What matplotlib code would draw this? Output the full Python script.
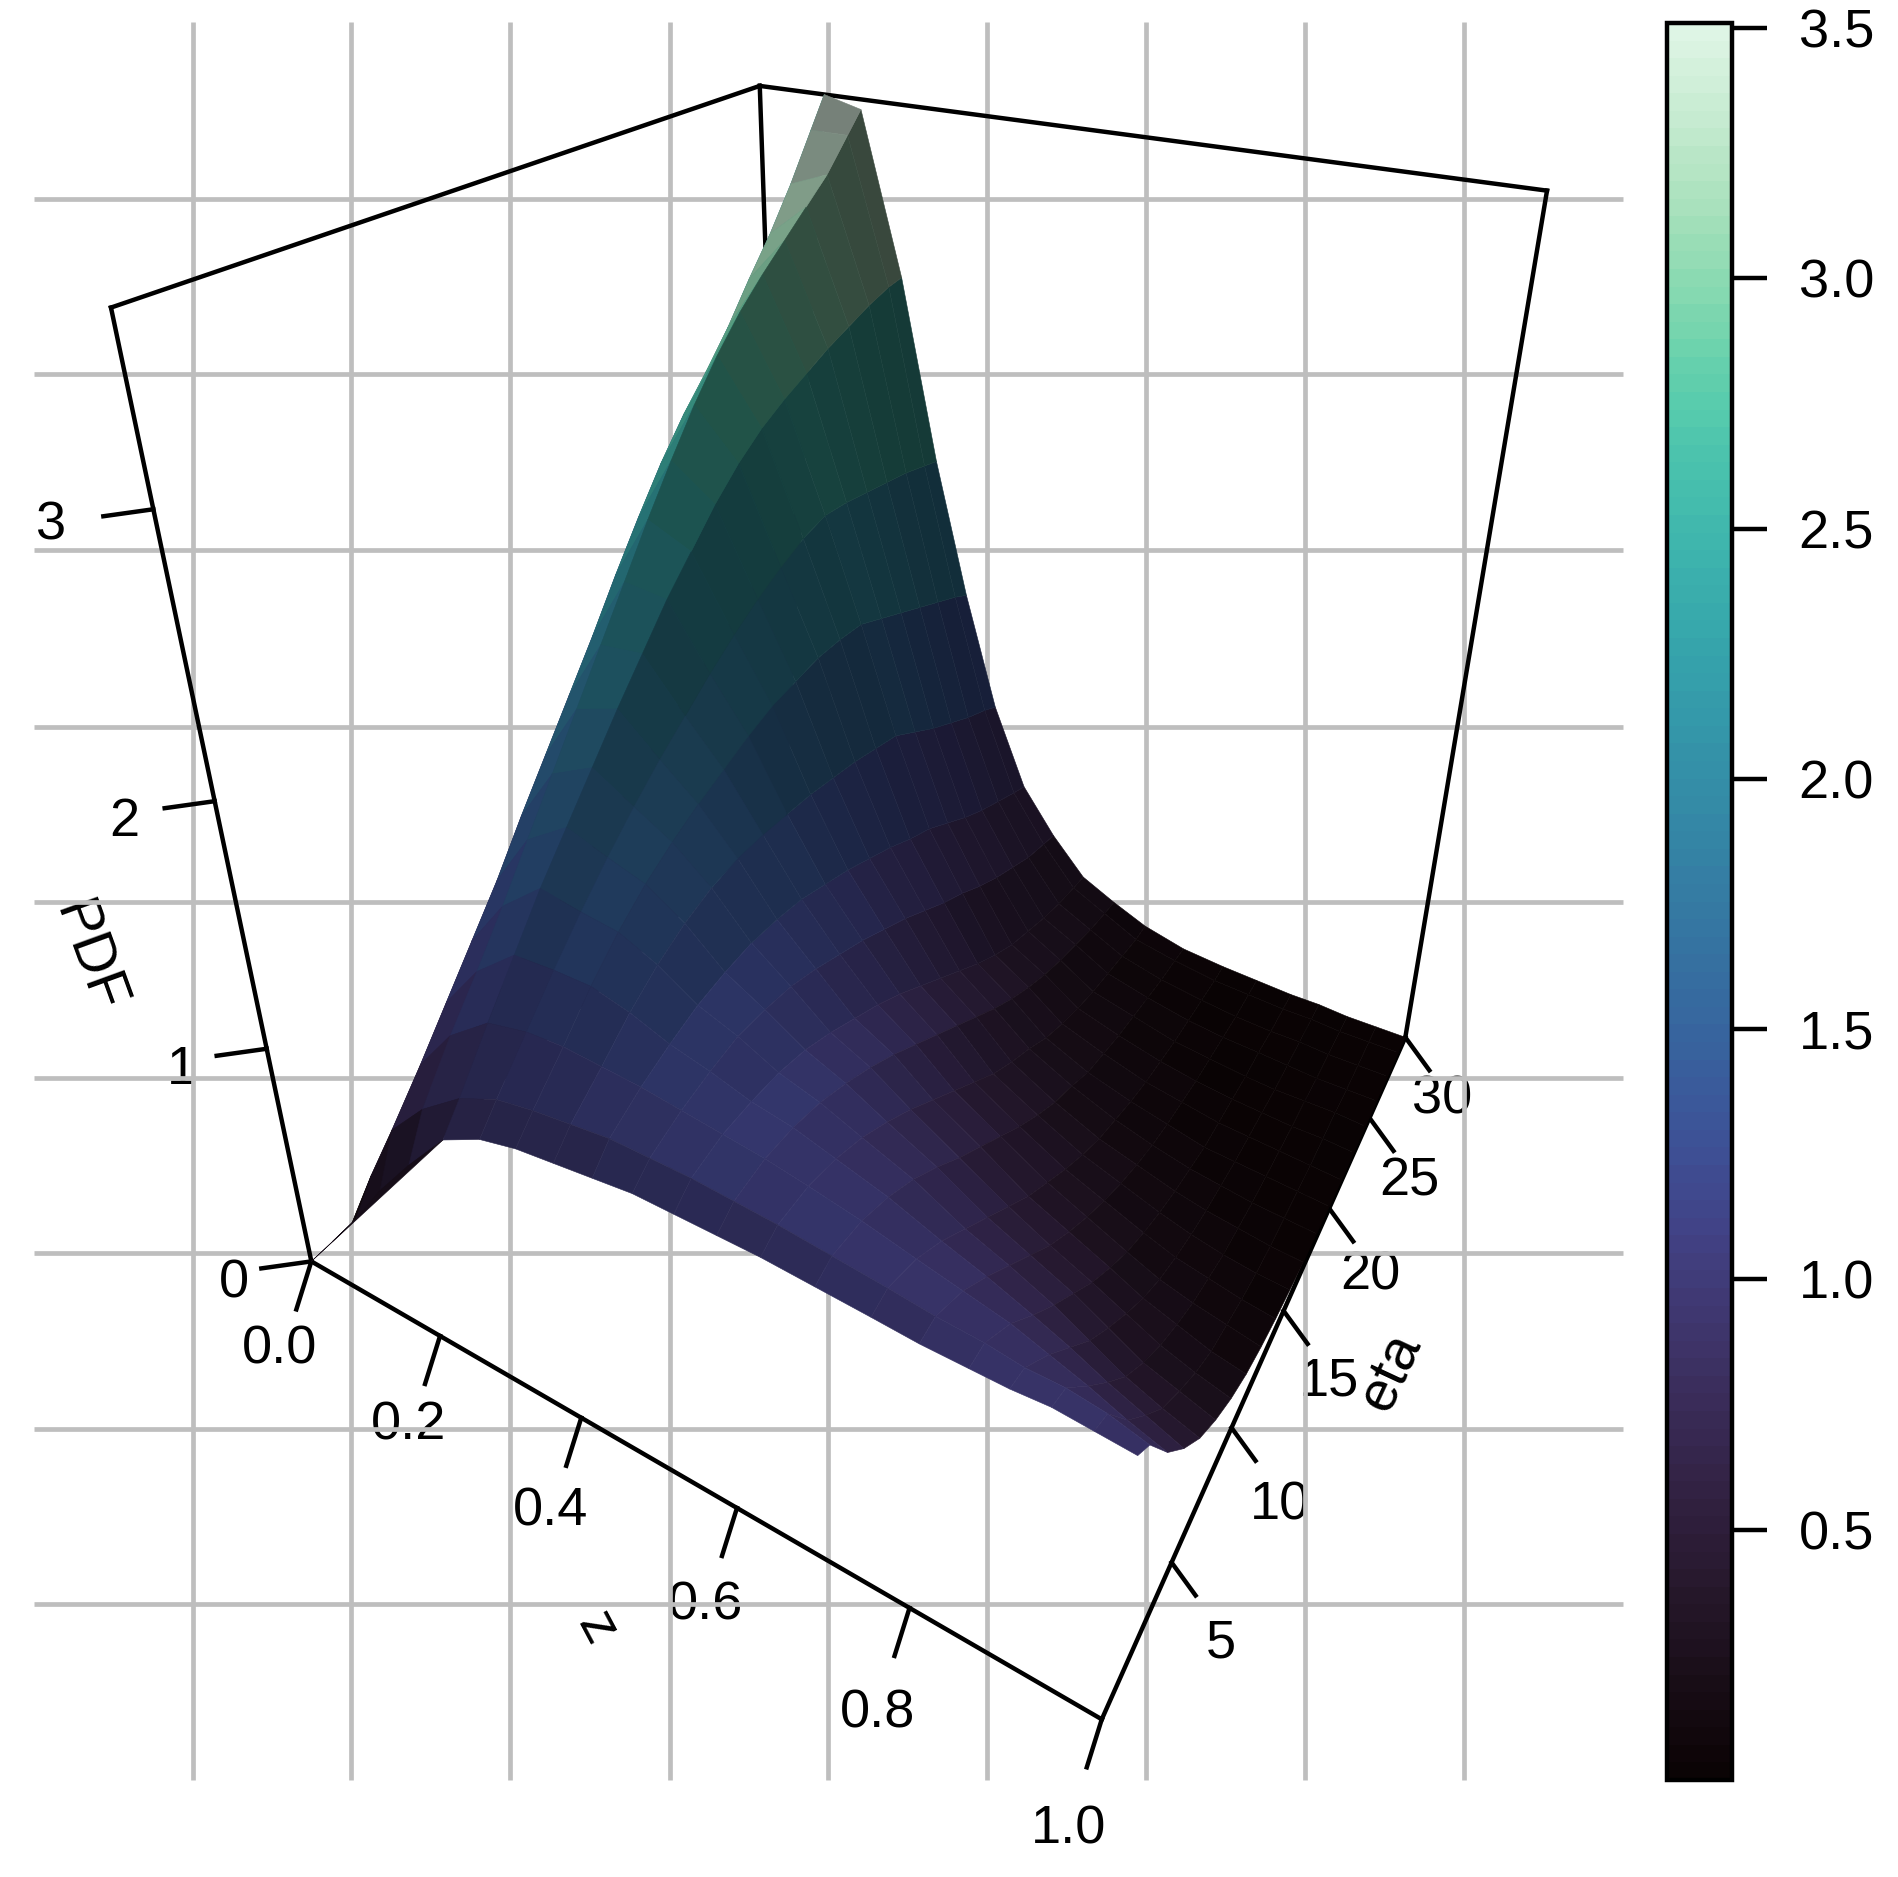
"""
plot.py - 3D PDF surface over z and eta with a side colour key, drawn on a pixel canvas.
"""

import numpy as np
import matplotlib
matplotlib.use('Agg')
import matplotlib.pyplot as plt
from matplotlib.collections import PolyCollection
from matplotlib.cm import ScalarMappable
from matplotlib.colors import Normalize
import seaborn as sns

plt.rcParams['font.family'] = ['Liberation Sans', 'DejaVu Sans']

# surface: one list per z column, one entry per eta row
z_values = [0.0, 0.05, 0.1, 0.155, 0.215, 0.27, 0.32, 0.37, 0.42, 0.47, 0.52,
            0.57, 0.62, 0.68, 0.74, 0.79, 0.84, 0.88, 0.92, 0.96, 1.0]
eta_values = [1.0, 1.9, 3.5, 5, 6.5, 8, 9.5, 11, 12.5, 14, 15.5, 17, 18.5, 20,
              21.5, 23, 24.5, 26, 27.5, 29, 30]
col00 = [0] * 21
col01 = [.20, .32, .40, .46, .52, .58, .65, .72, .80, .88, .96, 1.05, 1.14, 1.22, 1.30, 1.38, 1.46, 1.54, 1.62, 1.72, 1.80]
col02 = [.42, .62, .78, .94, 1.10, 1.26, 1.44, 1.61, 1.78, 1.95, 2.13, 2.30, 2.46, 2.60, 2.72, 2.85, 3.00, 3.14, 3.30, 3.48, 3.60]
col03 = [.63, .80, .99, 1.15, 1.32, 1.50, 1.68, 1.86, 2.04, 2.22, 2.40, 2.57, 2.73, 2.87, 2.99, 3.09, 3.18, 3.27, 3.36, 3.48, 3.56]
col04 = [.84, .94, 1.13, 1.30, 1.47, 1.62, 1.77, 1.92, 2.06, 2.20, 2.32, 2.44, 2.54, 2.62, 2.68, 2.73, 2.78, 2.82, 2.86, 2.89, 2.90]
col05 = [.93, 1.02, 1.17, 1.31, 1.44, 1.56, 1.67, 1.77, 1.86, 1.95, 2.03, 2.10, 2.16, 2.21, 2.24, 2.23, 2.21, 2.19, 2.17, 2.14, 2.12]
col06 = [.97, 1.05, 1.18, 1.31, 1.42, 1.51, 1.58, 1.64, 1.69, 1.74, 1.78, 1.80, 1.82, 1.82, 1.81, 1.76, 1.71, 1.66, 1.61, 1.56, 1.52]
col07 = [.99, 1.07, 1.17, 1.27, 1.35, 1.41, 1.45, 1.47, 1.47, 1.46, 1.45, 1.43, 1.41, 1.38, 1.35, 1.28, 1.21, 1.15, 1.09, 1.04, 1.00]
col08 = [1.01, 1.09, 1.16, 1.21, 1.25, 1.27, 1.28, 1.27, 1.25, 1.21, 1.17, 1.12, 1.07, 1.01, .96, .89, .82, .76, .71, .66, .63]
col09 = [1.03, 1.09, 1.14, 1.17, 1.19, 1.18, 1.16, 1.12, 1.07, 1.02, .96, .90, .83, .76, .70, .63, .57, .52, .47, .44, .42]
col10 = [1.03, 1.09, 1.12, 1.12, 1.11, 1.08, 1.03, .97, .91, .84, .76, .68, .60, .52, .45, .39, .35, .31, .28, .26, .25]
col11 = [1.03, 1.08, 1.10, 1.09, 1.06, 1.01, .95, .88, .80, .72, .64, .56, .48, .41, .35, .30, .26, .23, .20, .18, .17]
col12 = [1.03, 1.07, 1.07, 1.04, .99, .92, .84, .75, .66, .57, .48, .41, .35, .28, .23, .19, .16, .14, .12, .10, .10]
col13 = [1.02, 1.05, 1.03, .98, .91, .82, .72, .63, .54, .45, .37, .30, .25, .19, .16, .13, .11, .09, .07, .06, .05]
col14 = [1.01, 1.03, .98, .90, .80, .70, .60, .50, .42, .34, .27, .21, .17, .13, .10, .08, .06, .05, .04, .03, .03]
col15 = [1.00, 1.01, .94, .84, .73, .62, .51, .42, .34, .27, .21, .16, .12, .09, .07, .05, .04, .03, .02, .02, .02]
col16 = [1.00, 1.00, .90, .77, .65, .54, .43, .34, .26, .20, .15, .11, .08, .05, .04, .03, .02, .02, .01, .01, .01]
col17 = [1.00, .98, .85, .71, .57, .46, .36, .27, .20, .15, .11, .08, .06, .04, .03, .02, .01, .01, .01, .01, .01]
col18 = [1.01, .98, .80, .64, .49, .38, .29, .22, .16, .12, .08, .06, .04, .03, .02, .01, .01, .00, .00, .00, .00]
col19 = [1.00, .96, .74, .58, .43, .33, .24, .17, .13, .09, .06, .04, .03, .02, .01, .01, .01, .00, .00, .00, .00]
col20 = [.99, .92, .69, .52, .38, .28, .20, .14, .10, .07, .05, .03, .02, .01, .00, .00, .00, .00, .00, .00, .00]

z_ticks = [0.0, 0.2, 0.4, 0.6, 0.8, 1.0]
z_tick_labels = ['0.0', '0.2', '0.4', '0.6', '0.8', '1.0']
eta_ticks = [5, 10, 15, 20, 25, 30]
eta_tick_labels = ['5', '10', '15', '20', '25', '30']
pdf_ticks = [0, 1, 2, 3]
pdf_tick_labels = ['0', '1', '2', '3']
key_ticks = [0.5, 1.0, 1.5, 2.0, 2.5, 3.0, 3.5]
key_tick_labels = ['0.5', '1.0', '1.5', '2.0', '2.5', '3.0', '3.5']

W, H = 1899, 1877
Z_MAX, ETA_MAX, PDF_TOP = 1.0, 30.0, 3.6
KEY_MIN, KEY_MAX = 0.0, 3.51

# where box points land in the picture, used to fit the camera (z, eta, pdf) -> (px, py)
anchors = [
    (0, 0, 0, 311, 1260), (.2, 0, 0, 438, 1336), (.4, 0, 0, 584, 1419),
    (.6, 0, 0, 736, 1510), (.8, 0, 0, 911, 1608), (1, 0, 0, 1100, 1715),
    (1, 5, 0, 1172, 1562), (1, 10, 0, 1230, 1432), (1, 15, 0, 1283, 1312),
    (1, 20, 0, 1330, 1208), (1, 25, 0, 1370, 1120), (1, 30, 0, 1405, 1033),
    (0, 0, 1, 269, 1051), (0, 0, 2, 214, 799), (0, 0, 3, 154, 506),
    (0, 0, PDF_TOP, 110, 309), (0, 30, PDF_TOP, 759, 87), (1, 30, PDF_TOP, 1548, 191),
]


def fit_camera(points):
    rows = []
    for z, eta, pdf, u, v in points:
        X = [z, eta / ETA_MAX, pdf / PDF_TOP, 1]
        u, v = u / 1000, v / 1000
        rows.append(X + [0, 0, 0, 0] + [-u * c for c in X])
        rows.append([0, 0, 0, 0] + X + [-v * c for c in X])
    cam = np.linalg.svd(np.array(rows))[2][-1].reshape(3, 4)
    if cam[2] @ np.array([0, 0, 0, 1]) < 0:
        cam = -cam
    return cam


CAM = fit_camera(anchors)


def project(z, eta, pdf):
    X = np.array([z, eta / ETA_MAX, pdf / PDF_TOP, 1.0])
    u, v, w = CAM @ X
    return 1000 * u / w, 1000 * v / w, w


cmap = sns.color_palette('mako', as_cmap=True).resampled(100)
norm = Normalize(KEY_MIN, KEY_MAX)

fig = plt.figure(figsize=(W / 100, H / 100), dpi=100)
ax = fig.add_axes([0, 0, 1, 1])
ax.set_xlim(0, W)
ax.set_ylim(H, 0)
ax.axis('off')

# tick labels sit under the grid in the original
GRID = '#BEBEBE'
TXT = 39
pdf_label_xy = [(234, 1284), (182, 1070), (124, 822), (51, 525)]
z_label_xy = [(280, 1349), (409, 1426), (551, 1511), (706, 1606), (878, 1713), (1069, 1830)]
eta_label_xy = [(1221, 1643), (1280, 1506), (1329, 1382), (1370, 1276), (1409, 1182), (1442, 1099)]
for labels, spots in [(pdf_tick_labels, pdf_label_xy), (z_tick_labels, z_label_xy), (eta_tick_labels, eta_label_xy)]:
    for s, (x, y) in zip(labels, spots):
        ax.text(x, y, s, fontsize=TXT, ha='center', va='center', zorder=1)
ax.text(88, 957, 'PDF', fontsize=41, rotation=-70, ha='center', va='center', zorder=1)
ax.text(597, 1629, 'z', fontsize=41, rotation=-62, ha='center', va='center', zorder=1)
ax.text(1390, 1372, 'eta', fontsize=41, rotation=65, ha='center', va='center', zorder=1)

# background grid
for x in [193, 351, 510, 670, 828, 987, 1146, 1305, 1464]:
    ax.plot([x, x], [22, 1780], color=GRID, lw=3.4, solid_capstyle='butt', zorder=2)
for y in [199, 374, 550, 727, 902, 1078, 1253, 1429, 1604]:
    ax.plot([34, 1623], [y, y], color=GRID, lw=3.4, solid_capstyle='butt', zorder=2)

# box edges
LW = 3.2
edges = [
    ((0, 0, 0), (1, 0, 0)), ((1, 0, 0), (1, 30, 0)), ((0, 0, 0), (0, 0, PDF_TOP)),
    ((0, 0, PDF_TOP), (0, 30, PDF_TOP)), ((0, 30, PDF_TOP), (1, 30, PDF_TOP)),
    ((1, 30, PDF_TOP), (1, 30, 0)), ((0, 30, PDF_TOP), (0, 30, 0)),
]
for a, b in edges:
    pa, pb = project(*a), project(*b)
    ax.plot([pa[0], pb[0]], [pa[1], pb[1]], color='black', lw=LW, zorder=3)

for z in z_ticks:
    u, v, _ = project(z, 0, 0)
    ax.plot([u, u - 15], [v, v + 48], color='black', lw=LW, zorder=3)
for eta in eta_ticks:
    u, v, _ = project(1, eta, 0)
    ax.plot([u, u + 24], [v, v + 33], color='black', lw=LW, zorder=3)
for p in pdf_ticks:
    u, v, _ = project(0, 0, p)
    ax.plot([u, u - 50], [v, v + 7], color='black', lw=LW, zorder=3)

# surface facets, far ones first
pdf_grid = np.array([col00, col01, col02, col03, col04, col05, col06, col07, col08, col09, col10,
                     col11, col12, col13, col14, col15, col16, col17, col18, col19, col20], dtype=float).T
light = np.array([-0.46, 0.55, 0.70])
polys, colors, depth = [], [], []
for i in range(len(eta_values) - 1):
    for j in range(len(z_values) - 1):
        corners = [(z_values[j], eta_values[i], pdf_grid[i, j]),
                   (z_values[j + 1], eta_values[i], pdf_grid[i, j + 1]),
                   (z_values[j + 1], eta_values[i + 1], pdf_grid[i + 1, j + 1]),
                   (z_values[j], eta_values[i + 1], pdf_grid[i + 1, j])]
        flat = [project(*c) for c in corners]
        cube = np.array([[c[0], c[1] / ETA_MAX, c[2] / PDF_TOP] for c in corners])
        normal = np.cross(cube[2] - cube[0], cube[3] - cube[1])
        normal = normal / np.linalg.norm(normal)
        if normal[2] < 0:
            normal = -normal
        shade = min(((1 + normal @ light) / 2) ** 1.15, 0.85)
        rgb = np.array(cmap(norm(np.mean([c[2] for c in corners])))[:3]) * shade
        polys.append([(f[0], f[1]) for f in flat])
        colors.append(rgb)
        depth.append(np.mean([f[2] for f in flat]))

# dark wedge from the box corner to the front row
wedge = [project(0, 0, 0)] + [project(z_values[j], eta_values[0], pdf_grid[0, j]) for j in range(5)]
polys.append([(f[0], f[1]) for f in wedge])
colors.append(np.array(cmap(norm(0.3))[:3]) * 0.7)
depth.append(-1e9)

order = np.argsort(depth)[::-1]
surface = PolyCollection([polys[k] for k in order], facecolors=[colors[k] for k in order],
                         edgecolors='face', linewidths=0.4, zorder=4)
ax.add_collection(surface)

# colour key
cax = fig.add_axes([1667 / W, 1 - 1780 / H, 65 / W, 1757 / H])
sm = ScalarMappable(norm=norm, cmap=cmap)
cbar = fig.colorbar(sm, cax=cax)
cbar.set_ticks(key_ticks)
cbar.set_ticklabels(key_tick_labels)
cbar.ax.tick_params(length=25, width=LW, labelsize=TXT, pad=23)
cbar.outline.set_linewidth(LW)

fig.savefig('out.png', dpi=100)
